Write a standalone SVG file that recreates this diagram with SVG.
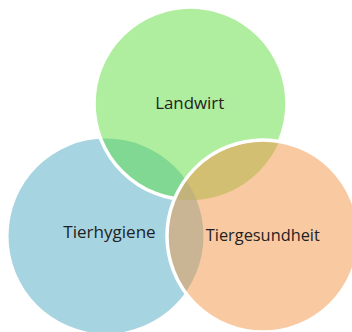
<svg xmlns="http://www.w3.org/2000/svg" width="352" height="332" viewBox="0 0 352 332">
  <style>
    .lbl { font-family: "Open Sans", "Liberation Sans", sans-serif; font-size: 16px; fill: #222; text-anchor: middle; }
    .ring { fill: none; stroke: #ffffff; stroke-width: 3.5; }
  </style>
  <defs>
    <clipPath id="clipG"><circle cx="190.5" cy="103.5" r="96.5"/></clipPath>
    <clipPath id="clipO"><circle cx="263" cy="236" r="96"/></clipPath>
    <clipPath id="clipB"><circle cx="106" cy="236" r="97.5"/></clipPath>
  </defs>
  <rect width="352" height="332" fill="#ffffff"/>
  <g id="tierhygiene">
    <circle cx="106" cy="236" r="97.5" fill="#a7d4e1"/>
  </g>
  <g id="landwirt">
    <circle cx="190.5" cy="103.5" r="96.5" fill="#b0ee9f"/>
    <circle cx="106" cy="236" r="97.5" fill="#80d892" clip-path="url(#clipG)"/>
    <circle class="ring" cx="190.5" cy="103.5" r="96.5"/>
  </g>
  <g id="tiergesundheit">
    <circle cx="263" cy="236" r="96" fill="#f9c9a2"/>
    <g clip-path="url(#clipO)">
      <circle cx="190.5" cy="103.5" r="96.5" fill="#d2bf72"/>
      <circle cx="106" cy="236" r="97.5" fill="#c9b494"/>
      <g clip-path="url(#clipB)">
        <circle cx="190.5" cy="103.5" r="96.5" fill="#c1b37a"/>
      </g>
    </g>
    <circle class="ring" cx="263" cy="236" r="96"/>
  </g>
  <g id="labels">
    <text class="lbl" x="189.7" y="109" textLength="69" lengthAdjust="spacingAndGlyphs">Landwirt</text>
    <text class="lbl" x="109.5" y="238.3" textLength="92.4" lengthAdjust="spacingAndGlyphs">Tierhygiene</text>
    <text class="lbl" x="262.8" y="241" textLength="114" lengthAdjust="spacingAndGlyphs">Tiergesundheit</text>
  </g>
  <g id="connectors"></g>
</svg>
